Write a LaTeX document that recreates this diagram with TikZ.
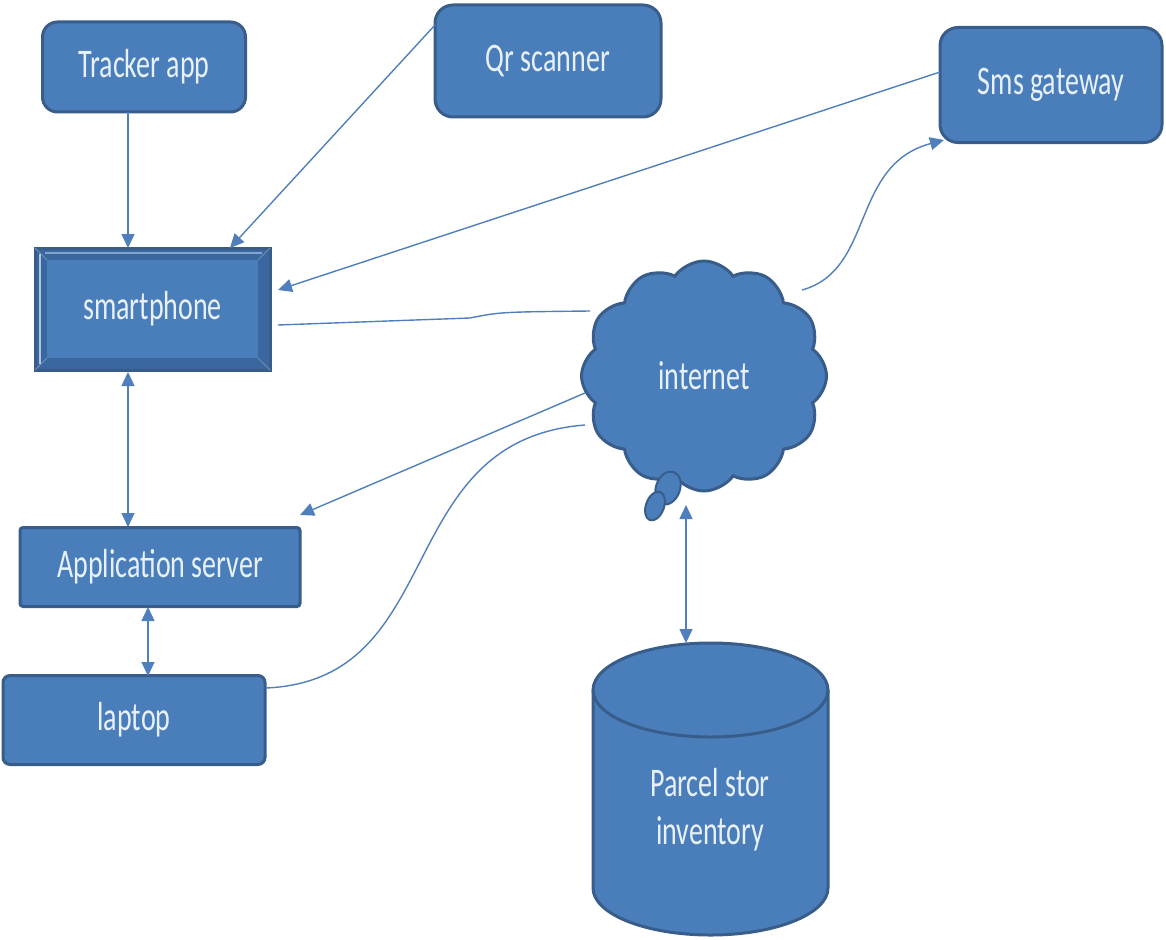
\documentclass[tikz,border=0pt]{standalone}
\usepackage{fontspec}
\setmainfont{Carlito}
\usetikzlibrary{arrows.meta,shapes.symbols}
\definecolor{boxfill}{HTML}{4A7EBB}
\definecolor{boxedge}{HTML}{385D8A}
\definecolor{bevel}{HTML}{3A679F}
\definecolor{wire}{HTML}{4F7FBD}
\definecolor{lbl}{HTML}{E8F0FA}
\newcommand\tallt[1]{\scalebox{1}[1.45]{#1}}
\tikzset{
  x=1pt, y=-1pt,
  box/.style={draw=boxedge, line width=3pt, fill=boxfill, text=lbl,
    font=\fontsize{28}{34}\selectfont},
  wirepath/.style={draw=wire, line width=1.4pt},
  tip/.style={wirepath, -{Triangle[length=14pt,width=13pt]}},
  tips/.style={wirepath, {Triangle[length=14pt,width=13pt]}-{Triangle[length=14pt,width=13pt]}},
}
\begin{document}
\begin{tikzpicture}
\useasboundingbox (0,0) rectangle (1166,939);

% upper devices
\node[box, rounded corners=15pt, minimum width=203pt, minimum height=90pt] (tracker) at (144,67) {\tallt{Tracker app}};
\node[box, rounded corners=18pt, minimum width=226pt, minimum height=112pt] (qr) at (548,61) {\tallt{Qr scanner}};
\node[box, rounded corners=18pt, minimum width=222pt, minimum height=115pt] (sms) at (1051,85) {\tallt{Sms gateway}};

% smartphone: bevelled button
\fill[bevel, draw=boxedge, line width=3pt] (35,248) rectangle (270,370);
\fill[boxfill] (47,260) rectangle (258,358);
\draw[boxedge!70!white, line width=1pt] (35,248) -- (47,260) (270,248) -- (258,260)
  (35,370) -- (47,358) (270,370) -- (258,358);
\draw[white!55!boxfill, line width=2pt] (40,254) -- (40,364);
\draw[white!30!boxfill, line width=2pt] (45,253) -- (262,253);
\node[box, draw=none, fill=none, minimum width=235pt, minimum height=122pt] (phone) at (152.5,309) {\tallt{smartphone}};

% servers and laptop
\node[box, rounded corners=3pt, minimum width=280pt, minimum height=79pt] (app) at (160,567) {\tallt{Application server}};
\node[box, rounded corners=7pt, minimum width=262pt, minimum height=89pt] (laptop) at (134,720) {\tallt{laptop}};

% internet cloud with its tail
\node[box, cloud, cloud puffs=12, cloud puff arc=110, aspect=1,
  minimum width=245pt, minimum height=230pt] (net) at (704,376) {\tallt{internet}};
\fill[boxfill, draw=boxedge, line width=2pt, rotate around={-20:(668,488)}] (668,488) ellipse (12pt and 17pt);
\fill[boxfill, draw=boxedge, line width=2pt, rotate around={-20:(655,506)}] (655,506) ellipse (9pt and 15pt);

% parcel store cylinder
\fill[boxfill, draw=boxedge, line width=3pt]
  (593,690) -- (593,888) arc[start angle=180, end angle=0, x radius=117.5, y radius=47]
  -- (828,690) arc[start angle=0, end angle=-180, x radius=117.5, y radius=47] -- cycle;
\draw[boxedge, line width=3pt] (593,690) arc[start angle=180, end angle=0, x radius=117.5, y radius=47];
\node[box, draw=none, fill=none, align=center] (store) at (710,810)
  {\tallt{Parcel stor}\\[14pt]\tallt{inventory}};
\coordinate (storetop) at (686,643);

% connector ends
\coordinate (trackerout) at (128,112);
\coordinate (phonein1) at (128,248);
\coordinate (qrout) at (435,25);
\coordinate (phonein2) at (230,248);
\coordinate (smsout) at (940,72);
\coordinate (phonein3) at (278,290);
\coordinate (phoneout) at (278,325);
\coordinate (netleft) at (590,311);
\coordinate (netright) at (802,290);
\coordinate (smsin) at (944,140);
\coordinate (phonebottom) at (128,372);
\coordinate (apptop) at (128,527);
\coordinate (netout) at (585,393);
\coordinate (appin) at (300,515);
\coordinate (laptopout) at (266,688);
\coordinate (netin) at (585,425);
\coordinate (appbottom) at (148,607);
\coordinate (laptoptop) at (148,676);
\coordinate (netbottom) at (686,505);

% connectors
\draw[tip] (trackerout) -- (phonein1);
\draw[tip] (qrout) -- (phonein2);
\draw[tip] (smsout) -- (phonein3);
\draw[wirepath] (phoneout) -- (470,318) .. controls (500,312) .. (netleft);
\draw[tip] (netright) .. controls (875,270) and (850,165) .. (smsin);
\draw[tips] (phonebottom) -- (apptop);
\draw[tip] (netout) -- (appin);
\draw[wirepath] (laptopout) .. controls (450,680) and (390,440) .. (netin);
\draw[tips] (appbottom) -- (laptoptop);
\draw[tips] (netbottom) -- (storetop);
\end{tikzpicture}
\end{document}
